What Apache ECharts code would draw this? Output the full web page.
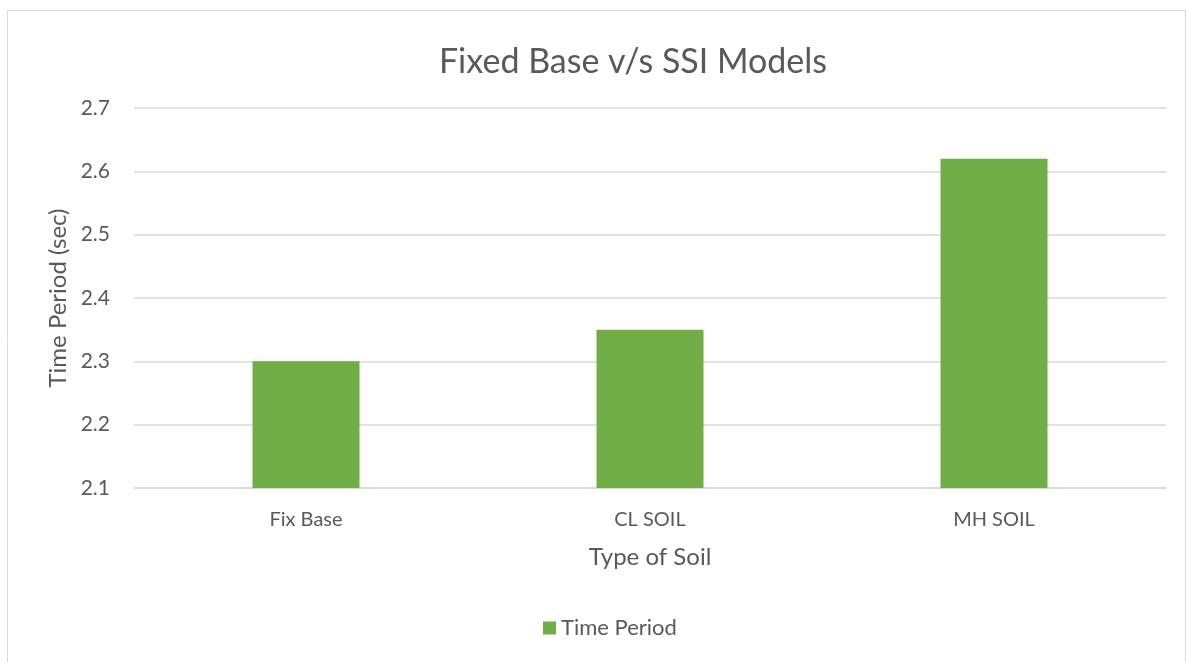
<!DOCTYPE html>
<html>
<head>
<meta charset="utf-8">
<script src="https://cdn.jsdelivr.net/npm/echarts@6/dist/echarts.min.js"></script>
<style>
    html, body { margin: 0; padding: 0; background: #fff; }
    #chart { width: 1187px; height: 662px; }
</style>
</head>
<body>
<div id="chart"></div>
<script>
const categories = ['Fix Base', 'CL SOIL', 'MH SOIL'];
const timePeriod = [2.3, 2.35, 2.62];

const font = 'Lato, "Open Sans", sans-serif';
const textColor = '#595959';

const chart = echarts.init(document.getElementById('chart'));

const option = {
    backgroundColor: '#fff',
    textStyle: { fontFamily: font },
    title: {
        text: 'Fixed Base v/s SSI Models',
        left: 628,
        textAlign: 'center',
        top: 40,
        textStyle: { fontSize: 34, fontWeight: 'normal', color: textColor, fontFamily: font }
    },
    graphic: [
        {
            type: 'rect',
            shape: { x: 7.5, y: 10.5, width: 1178, height: 660 },
            style: { fill: 'none', stroke: '#d9d9d9', lineWidth: 1 },
            silent: true
        }
    ],
    legend: {
        bottom: 18,
        left: 538,
        itemWidth: 13,
        itemHeight: 13,
        itemGap: 6,
        icon: 'rect',
        textStyle: { fontSize: 22, color: textColor, fontFamily: font },
        data: ['Time Period']
    },
    grid: {
        left: 134,
        right: 21,
        top: 108,
        bottom: 174,
        containLabel: false
    },
    xAxis: {
        type: 'category',
        data: categories,
        name: 'Type of Soil',
        nameLocation: 'middle',
        nameGap: 57,
        nameTextStyle: { fontSize: 24, color: textColor, fontFamily: font },
        axisTick: { show: false },
        axisLine: { lineStyle: { color: '#d9d9d9', width: 1.5 } },
        axisLabel: { fontSize: 20, color: textColor, margin: 22, fontFamily: font }
    },
    yAxis: {
        type: 'value',
        min: 2.1,
        max: 2.7,
        interval: 0.1,
        name: 'Time Period (sec)',
        nameLocation: 'middle',
        nameGap: 63,
        nameTextStyle: { fontSize: 24, color: textColor, fontFamily: font },
        axisLine: { show: false },
        axisTick: { show: false },
        axisLabel: {
            fontSize: 21,
            color: textColor,
            margin: 24,
            fontFamily: font,
            formatter: v => v.toFixed(1)
        },
        splitLine: { lineStyle: { color: '#d9d9d9', width: 1.5 } }
    },
    series: [
        {
            name: 'Time Period',
            type: 'bar',
            data: timePeriod,
            barWidth: 107,
            itemStyle: { color: '#70ad47' }
        }
    ]
};

chart.setOption(option);
</script>
</body>
</html>
